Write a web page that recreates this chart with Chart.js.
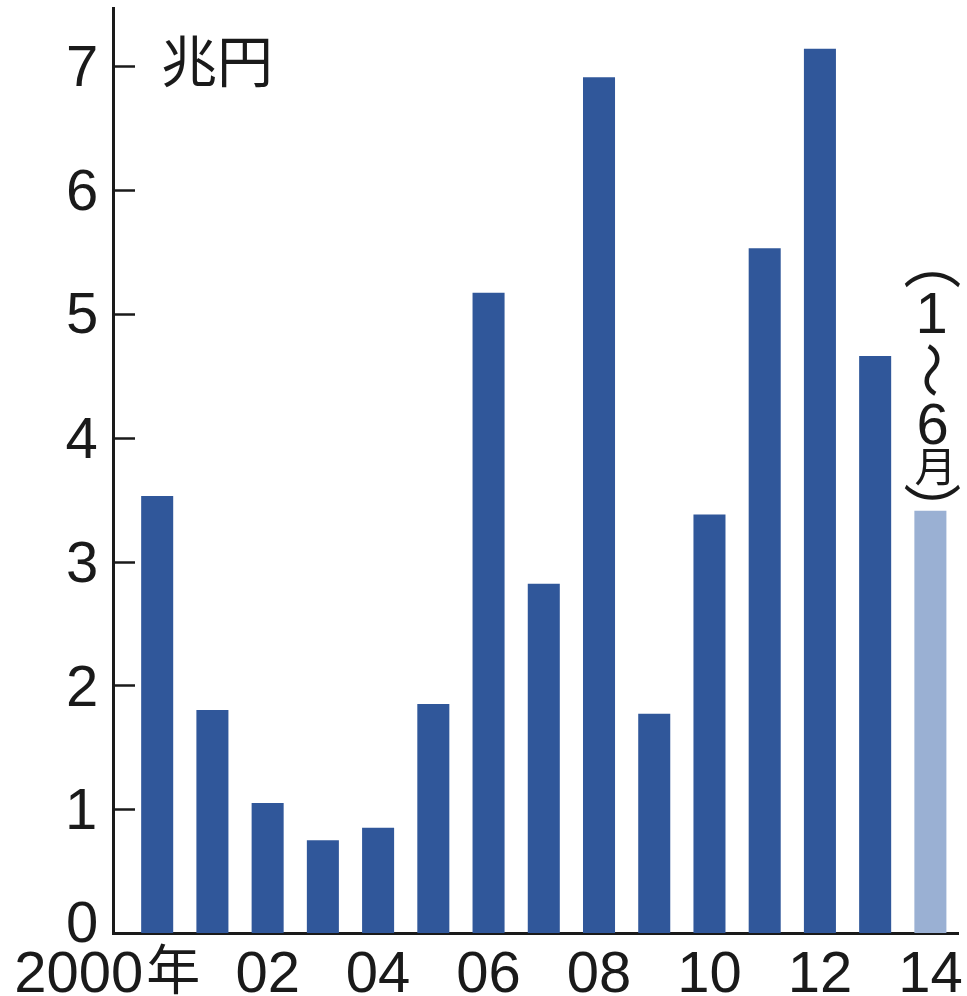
<!DOCTYPE html>
<html>
<head>
<meta charset="utf-8">
<script src="https://cdn.jsdelivr.net/npm/chart.js@4.4.1/dist/chart.umd.min.js"></script>
<style>
    html, body { margin: 0; padding: 0; background: #fff; }
    #wrap { width: 967px; height: 996px; }
</style>
</head>
<body>
<div id="wrap"><canvas id="chart"></canvas></div>
<script>
const years = [2000, 2001, 2002, 2003, 2004, 2005, 2006, 2007, 2008, 2009, 2010, 2011, 2012, 2013, 2014];
const values = [3.53, 1.80, 1.05, 0.75, 0.85, 1.85, 5.17, 2.82, 6.91, 1.77, 3.38, 5.53, 7.14, 4.66, 3.41];
const xTickYears = [2000, 2002, 2004, 2006, 2008, 2010, 2012, 2014];
const xTickLabels = ['2000年', '02', '04', '06', '08', '10', '12', '14'];
const yTicks = [0, 1, 2, 3, 4, 5, 6, 7];
const unitLabel = '兆円';
const noteChars = ['（', '1', '〜', '6', '月', '）'];

const barDark = '#30579a';
const barLight = '#9ab0d3';
const ink = '#1a1a1a';
const numFont = '"Liberation Sans", Arial, sans-serif';
const cjkFont = '"Noto Sans CJK JP", sans-serif';

(function () {
    // draw text so that its ink box is centred on (cx, cy)
    function fillCentered(ctx, text, cx, cy, rotate) {
        ctx.save();
        ctx.textAlign = 'left';
        ctx.textBaseline = 'alphabetic';
        const m = ctx.measureText(text);
        const mx = (m.actualBoundingBoxRight - m.actualBoundingBoxLeft) / 2;
        const my = (m.actualBoundingBoxDescent - m.actualBoundingBoxAscent) / 2;
        ctx.translate(cx, cy);
        if (rotate) {
            ctx.rotate(Math.PI / 2);
        }
        ctx.fillText(text, -mx, -my);
        ctx.restore();
    }

    const labelsPlugin = {
        id: 'labels',
        afterDraw: function (chart) {
            const ctx = chart.ctx;
            const x = chart.scales.x;
            const y = chart.scales.y;
            const area = chart.chartArea;
            ctx.save();

            // inner tick marks
            ctx.strokeStyle = ink;
            ctx.lineWidth = 2.5;
            yTicks.forEach(function (v) {
                if (v === 0) {
                    return;
                }
                const py = Math.round(y.getPixelForValue(v)) + 0.5;
                ctx.beginPath();
                ctx.moveTo(area.left, py);
                ctx.lineTo(area.left + 22, py);
                ctx.stroke();
            });

            // y labels
            ctx.fillStyle = ink;
            ctx.font = '58px ' + numFont;
            yTicks.forEach(function (v) {
                const w = ctx.measureText(String(v)).actualBoundingBoxRight;
                const lift = v === 0 ? -11 : 0;
                fillCentered(ctx, String(v), area.left - 16 - w / 2, y.getPixelForValue(v) + lift, false);
            });

            // x labels
            ctx.textBaseline = 'alphabetic';
            xTickYears.forEach(function (yr, i) {
                const px = x.getPixelForValue(yr);
                if (i === 0) {
                    ctx.textAlign = 'right';
                    ctx.font = '58px ' + numFont;
                    ctx.fillText('2000', px - 14, 992);
                    ctx.textAlign = 'left';
                    ctx.font = '54px ' + cjkFont;
                    ctx.fillText('年', px - 11, 990);
                } else {
                    ctx.textAlign = 'center';
                    ctx.font = '58px ' + numFont;
                    ctx.fillText(xTickLabels[i], px, 992);
                }
            });

            // unit
            ctx.font = '56px ' + cjkFont;
            fillCentered(ctx, unitLabel, 216, 61, false);

            // vertical note above the last bar
            const nx = x.getPixelForValue(years[years.length - 1]);
            const noteY = [280, 313, 370, 424, 467, 492];
            const noteSize = [58, 58, 56, 58, 42, 58];
            noteChars.forEach(function (ch, i) {
                const isNum = /[0-9]/.test(ch);
                ctx.font = noteSize[i] + 'px ' + (isNum ? numFont : cjkFont);
                fillCentered(ctx, ch, nx + 2, noteY[i], ch === '〜' || ch === '（' || ch === '）');
            });

            ctx.restore();
        }
    };

    new Chart(document.getElementById('chart'), {
        type: 'bar',
        data: {
            datasets: [{
                data: years.map(function (yr, i) { return { x: yr, y: values[i] }; }),
                backgroundColor: years.map(function (yr, i) { return i === years.length - 1 ? barLight : barDark; }),
                borderWidth: 0,
                categoryPercentage: 0.58,
                barPercentage: 1
            }]
        },
        options: {
            responsive: true,
            maintainAspectRatio: false,
            animation: false,
            layout: { padding: { left: 113, right: 9, top: 8, bottom: 63 } },
            plugins: { legend: { display: false }, tooltip: { enabled: false } },
            scales: {
                x: {
                    type: 'linear',
                    offset: false,
                    min: 1999.2,
                    max: 2014.5,
                    grid: { display: false, drawTicks: false },
                    ticks: { display: false },
                    border: { display: true, color: ink, width: 3 }
                },
                y: {
                    min: 0,
                    max: 7.47,
                    grid: { display: false, drawTicks: false },
                    ticks: { display: false },
                    border: { display: true, color: ink, width: 3 }
                }
            }
        },
        plugins: [labelsPlugin]
    });
})();
</script>
</body>
</html>
